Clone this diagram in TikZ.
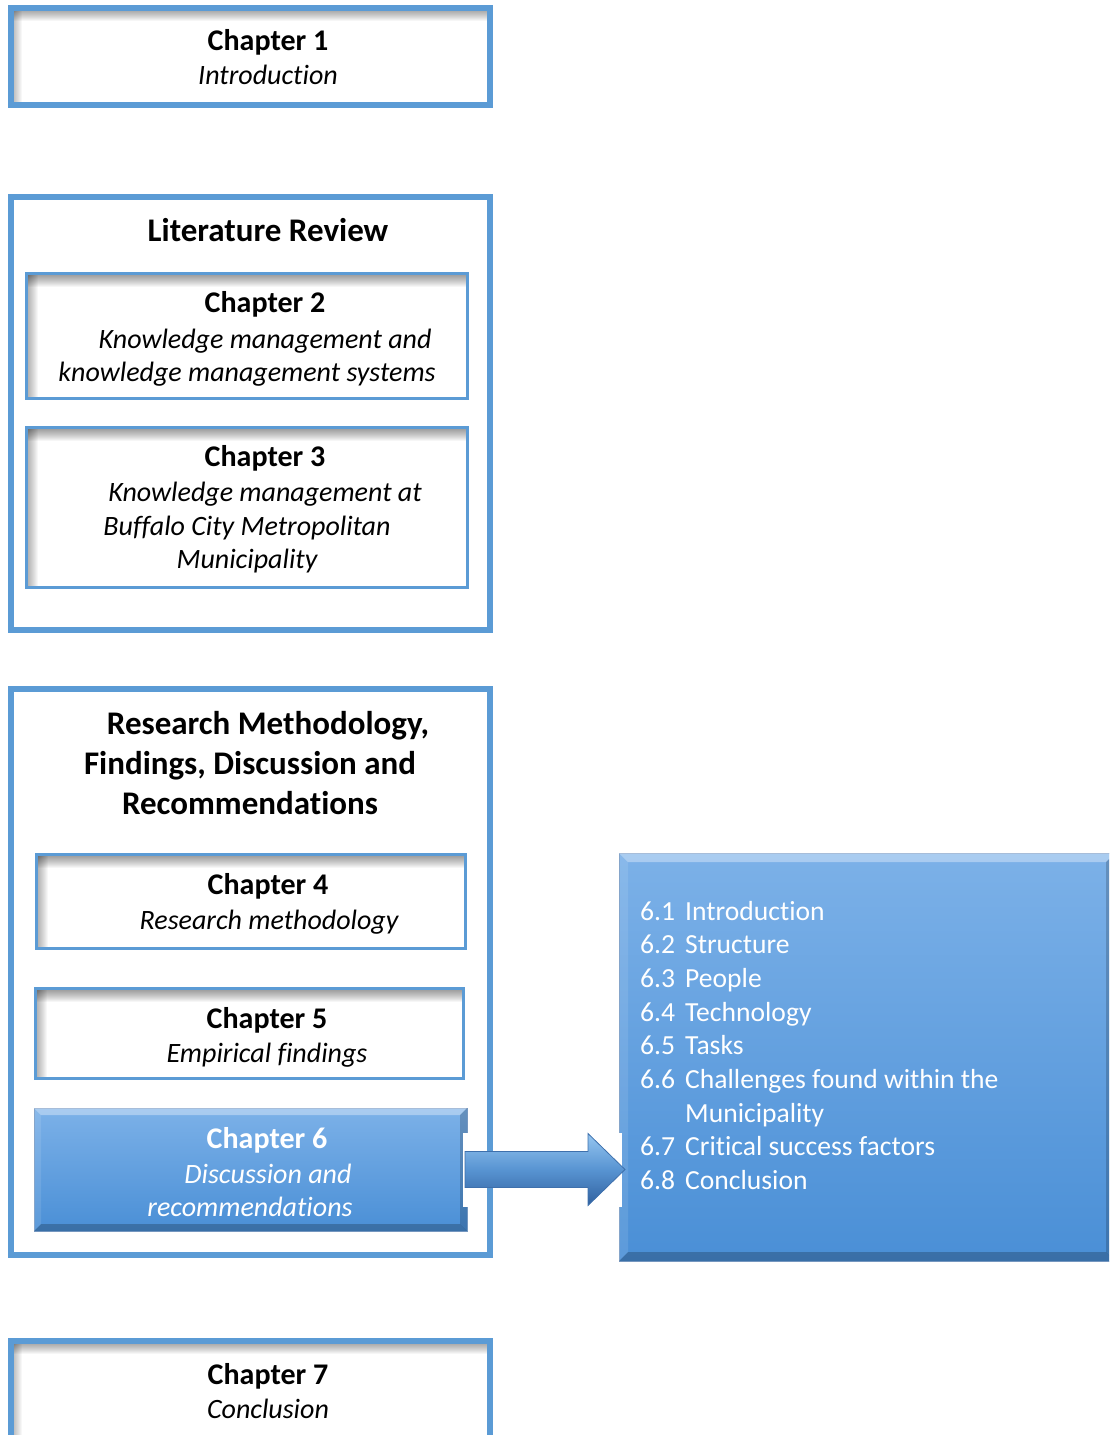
\documentclass[tikz,border=0pt]{standalone}
\usepackage{fontspec}
\setmainfont{Carlito}[Ligatures={NoCommon,NoContextual}]
\usetikzlibrary{calc}

\definecolor{frameblue}{RGB}{91,155,213}
\definecolor{filltop}{RGB}{124,177,232}
\definecolor{fillbot}{RGB}{74,143,214}
\definecolor{edgeblue}{RGB}{62,112,172}
\definecolor{arrowlight}{RGB}{150,198,240}
\definecolor{arrowmid}{RGB}{88,148,210}
\definecolor{arrowdark}{RGB}{48,96,158}

% bevel edges on a filled blue box
\newcommand\kmbevel[2]{%
  \fill[white,opacity=.35] (#1.north west) -- (#1.north east) -- ([shift={(-#2,-#2)}]#1.north east) -- ([shift={(#2,-#2)}]#1.north west) -- cycle;
  \fill[black,opacity=.22] (#1.south west) -- (#1.south east) -- ([shift={(-#2,#2)}]#1.south east) -- ([shift={(#2,#2)}]#1.south west) -- cycle;
  \fill[black,opacity=.18] (#1.north east) -- (#1.south east) -- ([shift={(-#2,#2)}]#1.south east) -- ([shift={(-#2,-#2)}]#1.north east) -- cycle;
  \fill[white,opacity=.10] (#1.north west) -- (#1.south west) -- ([shift={(#2,#2)}]#1.south west) -- ([shift={(#2,-#2)}]#1.north west) -- cycle;
}

\tikzset{
  outerframe/.style={draw=frameblue, line width=6pt, fill=white, inner sep=0pt, outer sep=0pt},
  % white box with a soft inner shadow along its top and left edges
  shadowbox/.style={draw=frameblue, line width=#1, fill=white, inner sep=0pt, outer sep=0pt,
    path picture={
      \foreach \k in {1,...,13}{
        \fill[black,opacity=.035] (path picture bounding box.north west) rectangle ([yshift=-\k pt]path picture bounding box.north east);
      }
      \foreach \k in {1,...,11}{
        \fill[black,opacity=.03] (path picture bounding box.north west) rectangle ([xshift=\k pt]path picture bounding box.south west);
      }
    }},
  bluebox/.style={top color=filltop, bottom color=fillbot, draw=edgeblue!70, line width=1pt, inner sep=0pt, outer sep=0pt},
  head/.style={font=\fontsize{30}{36}\selectfont\bfseries, anchor=base, inner sep=0pt},
  sub/.style={font=\fontsize{28}{34}\selectfont\itshape, anchor=base, inner sep=0pt},
  title/.style={font=\fontsize{33}{40}\selectfont\bfseries, anchor=base, inner sep=0pt},
  topics/.style={font=\fontsize{27.6}{33.7}\selectfont, text=white, anchor=base west, inner sep=0pt}
}

\begin{document}
\begin{tikzpicture}[x=1pt,y=1pt]
\useasboundingbox (0,0) rectangle (1109,-1435);
\clip (0,0) rectangle (1109,-1435);

% Chapter 1
\node[shadowbox=6pt, minimum width=479, minimum height=97] (ch1) at (250.5,-56.5) {};
\node[head] (ch1h) at (268,-50) {Chapter 1};
\node[sub]  (ch1s) at (268,-84) {Introduction};

% Literature review group
\node[outerframe, minimum width=479, minimum height=433] (lit) at (250.5,-413.5) {};
\node[title] (litt) at (268,-241) {Literature Review};

\node[shadowbox=3.5pt, minimum width=441, minimum height=125] (ch2) at (247,-336) {};
\node[head] (ch2h) at (265,-312) {Chapter 2};
\node[sub]  (ch2a) at (265,-348) {Knowledge management and};
\node[sub]  (ch2b) at (247,-381) {knowledge management systems};

\node[shadowbox=3.5pt, minimum width=441, minimum height=160] (ch3) at (247,-507.5) {};
\node[head] (ch3h) at (265,-466) {Chapter 3};
\node[sub]  (ch3a) at (265,-501) {Knowledge management at};
\node[sub]  (ch3b) at (247,-535) {Buffalo City Metropolitan};
\node[sub]  (ch3c) at (247,-568) {Municipality};

% Research group
\node[outerframe, minimum width=479, minimum height=566] (res) at (250.5,-972) {};
\node[title] (rest1) at (268,-734) {Research Methodology,};
\node[title] (rest2) at (250,-774) {Findings, Discussion and};
\node[title] (rest3) at (250,-814) {Recommendations};

\node[shadowbox=3.5pt, minimum width=429, minimum height=94] (ch4) at (251,-901.5) {};
\node[head] (ch4h) at (268,-894) {Chapter 4};
\node[sub]  (ch4s) at (269,-929) {Research methodology};

\node[shadowbox=3.5pt, minimum width=428, minimum height=90] (ch5) at (249.5,-1033.5) {};
\node[head] (ch5h) at (267,-1028) {Chapter 5};
\node[sub]  (ch5s) at (267,-1062) {Empirical findings};

\node[bluebox, minimum width=433, minimum height=123] (ch6) at (250.5,-1169.5) {};
\kmbevel{ch6}{7}
\node[head, text=white] (ch6h) at (267,-1148) {Chapter 6};
\node[sub, text=white]  (ch6a) at (268,-1183) {Discussion and};
\node[sub, text=white]  (ch6b) at (250,-1216) {recommendations};

% Chapter 6 contents
\node[bluebox, minimum width=496, minimum height=408] (big) at (867,-1057) {};
\kmbevel{big}{9}
\node[topics] (list) at (640,-920) {%
  \begin{tabular}[t]{@{}l@{}l@{}}
  \makebox[45pt][l]{6.1} & Introduction\\
  \makebox[45pt][l]{6.2} & Structure\\
  \makebox[45pt][l]{6.3} & People\\
  \makebox[45pt][l]{6.4} & Technology\\
  \makebox[45pt][l]{6.5} & Tasks\\
  \makebox[45pt][l]{6.6} & Challenges found within the\\
   & Municipality\\
  \makebox[45pt][l]{6.7} & Critical success factors\\
  \makebox[45pt][l]{6.8} & Conclusion
  \end{tabular}};

% block arrow from Chapter 6 to its contents
\coordinate (tip) at ($(big.west |- ch6.east)+(6,0)$);
\fill[white] ($(ch6.east)+(-4,37)$) rectangle ($(ch6.east)+(1,-37)$);
\fill[white] ($(big.west |- ch6.east)+(-1,37)$) rectangle ($(big.west |- ch6.east)+(3,-37)$);
\draw[edgeblue, line width=0.8pt, top color=arrowlight, bottom color=arrowdark, middle color=arrowmid]
  ($(ch6.east)+(-2,18)$) -- ($(tip)+(-37,18)$) -- ($(tip)+(-37,36)$) -- (tip)
  -- ($(tip)+(-37,-36)$) -- ($(tip)+(-37,-18)$) -- ($(ch6.east)+(-2,-18)$) -- cycle;

% Chapter 7
\node[shadowbox=6pt, minimum width=479, minimum height=109] (ch7) at (250.5,-1395.5) {};
\node[head] (ch7h) at (268,-1384) {Chapter 7};
\node[sub]  (ch7s) at (268,-1418) {Conclusion};
\end{tikzpicture}
\end{document}
